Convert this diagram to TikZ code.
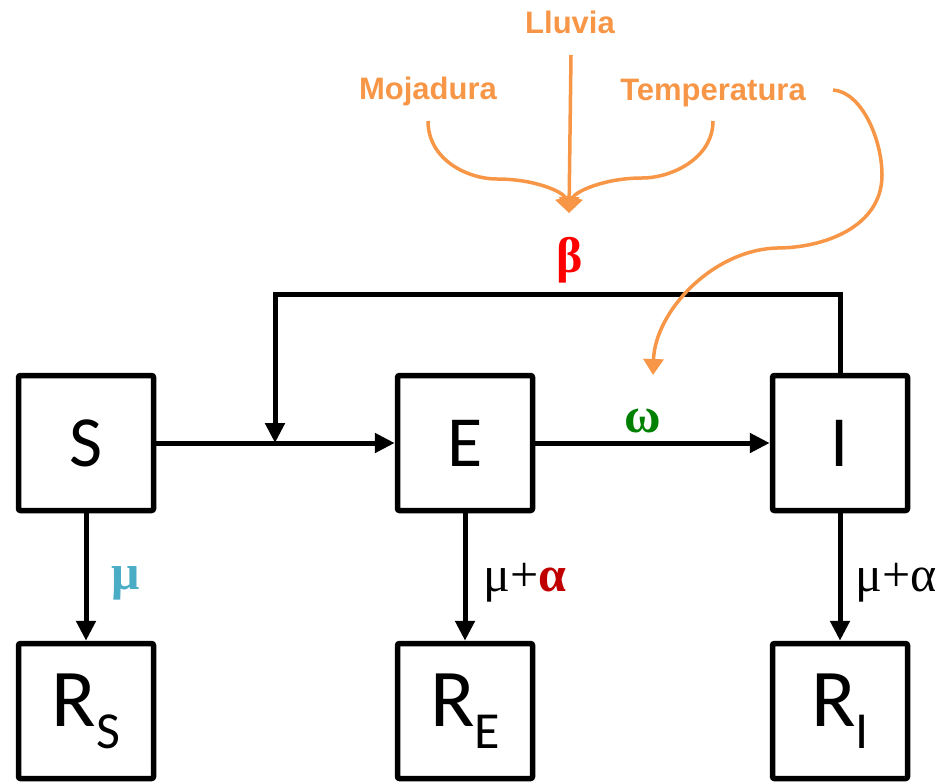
\documentclass[tikz,border=0pt]{standalone}
\usepackage{fontspec}
\setmainfont{Carlito}
\newfontfamily\factorfont{Liberation Sans}
\newfontfamily\greekfont{Liberation Serif}
\usetikzlibrary{arrows.meta}

\definecolor{factor}{HTML}{F79646}
\definecolor{mublue}{HTML}{4BACC6}
\definecolor{omegagreen}{HTML}{008000}
\definecolor{betared}{HTML}{FF0000}
\definecolor{alphared}{HTML}{C00000}

\begin{document}
\begin{tikzpicture}[x=1pt,y=-1pt,
  comp/.style={draw, line width=5.5pt, minimum width=135pt, minimum height=135pt,
    inner sep=0pt, rounded corners=2pt},
  small/.style={font=\fontsize{72}{72}\selectfont},
  big/.style={font=\fontsize{82}{82}\selectfont},
  flow/.style={line width=5pt, -{Triangle[length=20pt,width=19pt]}},
  influence/.style={draw=factor, line width=3.5pt, -{Triangle[length=16pt,width=20pt]}},
  factorlabel/.style={text=factor, font=\factorfont\bfseries\fontsize{31}{31}\selectfont},
  rate/.style={font=\greekfont\fontsize{50}{50}\selectfont}]
\useasboundingbox (0,0) rectangle (940,782);

% compartments
\node[comp, small] (S) at (86,443) {S};
\node[comp, small] (E) at (465,443) {E};
\node[comp, small] (I) at (840,443) {I};
\newcommand{\subcomp}[1]{R\raisebox{-0.27em}{\fontsize{52}{52}\selectfont #1}}
\node[comp, big] (RS) at (86,711) {\subcomp{S}};
\node[comp, big] (RE) at (465,711) {\subcomp{E}};
\node[comp, big] (RI) at (840,711) {\subcomp{I}};

% transitions
\draw[flow] (S.east) -- (E.west);
\draw[flow] (E.east) -- (I.west);
\coordinate (fb) at (275,294);
\draw[flow] (I.north) |- (fb) -- (fb |- S.east);
\draw[flow] (S.south) -- (RS.north);
\draw[flow] (E.south) -- (RE.north);
\draw[flow] (I.south) -- (RI.north);

% rates
\node[rate, text=betared] (beta) at (570,260) {\bfseries β};
\node[rate, text=omegagreen] (omega) at (643,421) {\bfseries ω};
\node[rate, text=mublue] (mu) at (126,583) {\bfseries μ};
\node[rate] (muE) at (525,583) {μ+\textcolor{alphared}{\bfseries α}};
\node[rate] (muI) at (896,583) {μ+α};

% environmental factors
\node[factorlabel] (lluvia) at (570,22) {Lluvia};
\node[factorlabel] (moja) at (428,91) {Mojadura};
\node[factorlabel] (temp) at (713,93) {Temperatura};
\coordinate (hub) at (569,213);
\coordinate (hit) at (653,375);
\draw[influence] (428,121) .. controls (428,160) and (468,179) .. (497,179)
  .. controls (535,179) and (564,192) .. (hub);
\draw[influence] (713,121) .. controls (713,158) and (672,178) .. (642,178)
  .. controls (604,178) and (574,192) .. (hub);
\draw[influence] (571,55) -- (hub);
\draw[influence] (833,90) .. controls (862,92) and (882,140) .. (882,175)
  .. controls (882,228) and (822,248) .. (777,248)
  .. controls (712,250) and (655,312) .. (hit);
\end{tikzpicture}
\end{document}
